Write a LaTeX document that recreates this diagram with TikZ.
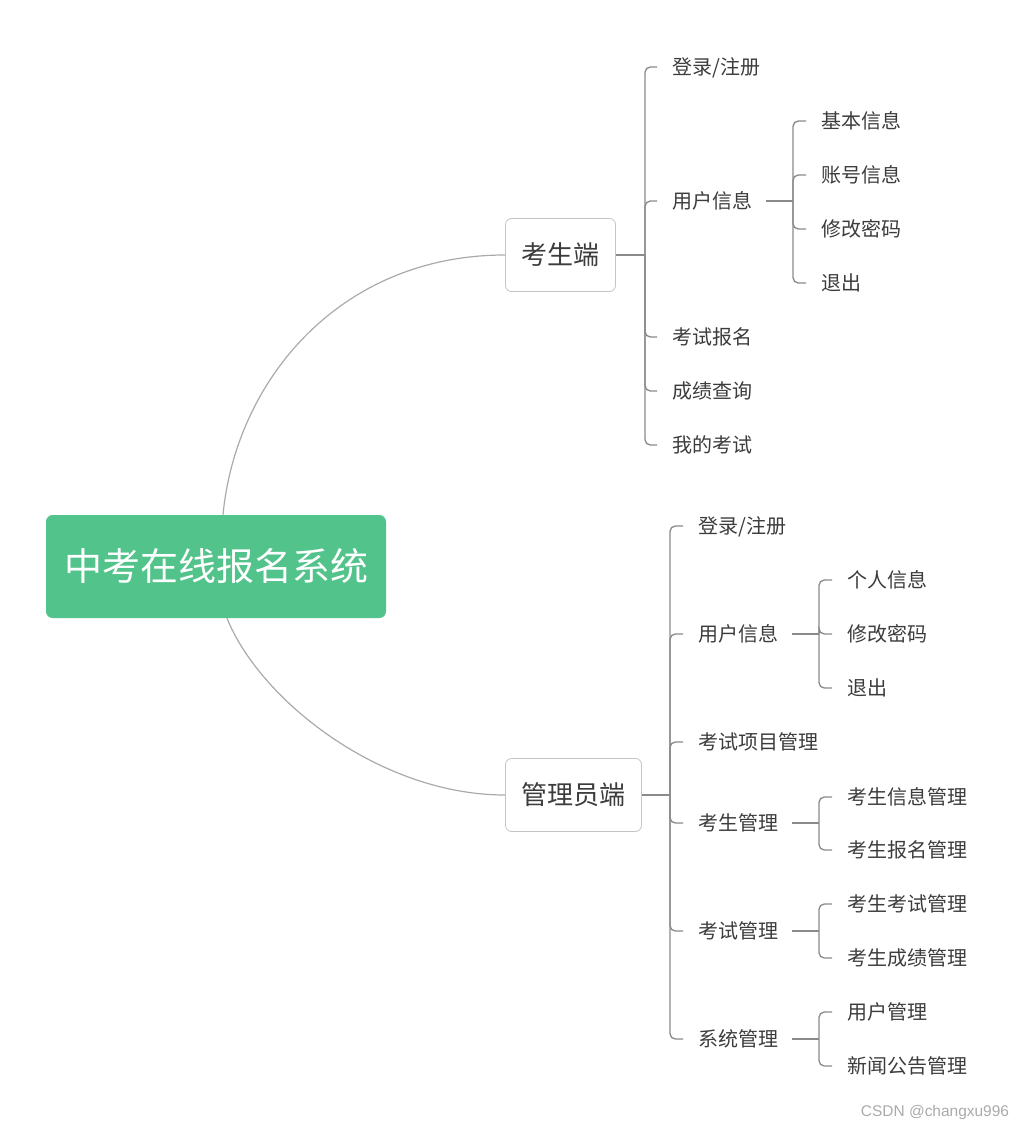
\documentclass[tikz,border=0pt]{standalone}
\usepackage{fontspec}
\setmainfont{Noto Sans CJK SC}
\newfontfamily\wmfont{Liberation Sans}
\usetikzlibrary{calc}
\definecolor{rootgreen}{RGB}{82,195,139}
\definecolor{boxc}{RGB}{196,196,196}
\definecolor{linec}{RGB}{138,138,138}
\definecolor{curvec}{RGB}{170,170,170}
\definecolor{txt}{RGB}{60,60,60}
\definecolor{wmc}{RGB}{170,170,170}
\tikzset{
  leaf/.style={anchor=west, inner sep=0pt, font=\fontsize{15}{18}\selectfont, text=txt, text height=13.2pt, text depth=1.8pt},
  midbox/.style={draw=boxc, line width=0.6pt, rounded corners=4.5pt, fill=white, inner xsep=12pt, minimum height=54.75pt, font=\fontsize{19.5}{23}\selectfont, text=txt},
  rootbox/.style={fill=rootgreen, rounded corners=5pt, inner sep=0pt, minimum width=255pt, minimum height=77.25pt, font=\fontsize{28.5}{34}\selectfont, text=white},
  conn/.style={draw=linec, line width=1pt},
  brk/.style={draw=linec, line width=1pt, rounded corners=4pt},
  curv/.style={draw=curvec, line width=0.9pt},
}
\begin{document}
\begin{tikzpicture}[x=0.75pt,y=-0.75pt]
\useasboundingbox (0,0) rectangle (1024,1131);
% root and middle nodes
\node[rootbox] (root) at (216,566.5) {中考在线报名系统};
\node[midbox] (s) at (560.5,255) {考生端};
\node[midbox] (a) at (573.5,795) {管理员端};
\draw[curv] ($(root.north)+(7,0)$) .. controls (236,380) and (340,255) .. (s.west);
\draw[curv] ($(root.south)+(11,0)$) .. controls (260,700) and (380,795) .. (a.west);
% student side
\coordinate (sb) at (645,255);
\node[leaf] (s1) at (672,67) {登录/注册};
\node[leaf] (s2) at (672,201) {用户信息};
\node[leaf] (s3) at (672,337) {考试报名};
\node[leaf] (s4) at (672,391) {成绩查询};
\node[leaf] (s5) at (672,445) {我的考试};
\draw[conn] (s.east) -- (sb);
\foreach \c in {s1,s2,s3,s4,s5}{\draw[brk] (sb) |- ($(\c.west)+(-15,0)$);}
\coordinate (s2b) at (793,201);
\node[leaf] (s21) at (821,121) {基本信息};
\node[leaf] (s22) at (821,175) {账号信息};
\node[leaf] (s23) at (821,229) {修改密码};
\node[leaf] (s24) at (821,283) {退出};
\draw[conn] (s2.east) ++(13,0) -- (s2b);
\foreach \c in {s21,s22,s23,s24}{\draw[brk] (s2b) |- ($(\c.west)+(-15,0)$);}
% admin side
\coordinate (ab) at (670,795);
\node[leaf] (a1) at (698,526) {登录/注册};
\node[leaf] (a2) at (698,634) {用户信息};
\node[leaf] (a3) at (698,742) {考试项目管理};
\node[leaf] (a4) at (698,823) {考生管理};
\node[leaf] (a5) at (698,931) {考试管理};
\node[leaf] (a6) at (698,1039) {系统管理};
\draw[conn] (a.east) -- (ab);
\foreach \c in {a1,a2,a3,a4,a5,a6}{\draw[brk] (ab) |- ($(\c.west)+(-15,0)$);}
\coordinate (a2b) at (819,634);
\node[leaf] (a21) at (847,580) {个人信息};
\node[leaf] (a22) at (847,634) {修改密码};
\node[leaf] (a23) at (847,688) {退出};
\draw[conn] (a2.east) ++(13,0) -- (a2b);
\foreach \c in {a21,a22,a23}{\draw[brk] (a2b) |- ($(\c.west)+(-15,0)$);}
\coordinate (a4b) at (819,823);
\node[leaf] (a41) at (847,797) {考生信息管理};
\node[leaf] (a42) at (847,850) {考生报名管理};
\draw[conn] (a4.east) ++(13,0) -- (a4b);
\foreach \c in {a41,a42}{\draw[brk] (a4b) |- ($(\c.west)+(-15,0)$);}
\coordinate (a5b) at (819,931);
\node[leaf] (a51) at (847,904) {考生考试管理};
\node[leaf] (a52) at (847,958) {考生成绩管理};
\draw[conn] (a5.east) ++(13,0) -- (a5b);
\foreach \c in {a51,a52}{\draw[brk] (a5b) |- ($(\c.west)+(-15,0)$);}
\coordinate (a6b) at (819,1039);
\node[leaf] (a61) at (847,1012) {用户管理};
\node[leaf] (a62) at (847,1066) {新闻公告管理};
\draw[conn] (a6.east) ++(13,0) -- (a6b);
\foreach \c in {a61,a62}{\draw[brk] (a6b) |- ($(\c.west)+(-15,0)$);}
% watermark
\node[font=\wmfont\fontsize{11.6}{13}\selectfont, text=wmc, inner sep=0pt] (wm) at (935,1112) {CSDN @changxu996};
\end{tikzpicture}
\end{document}
